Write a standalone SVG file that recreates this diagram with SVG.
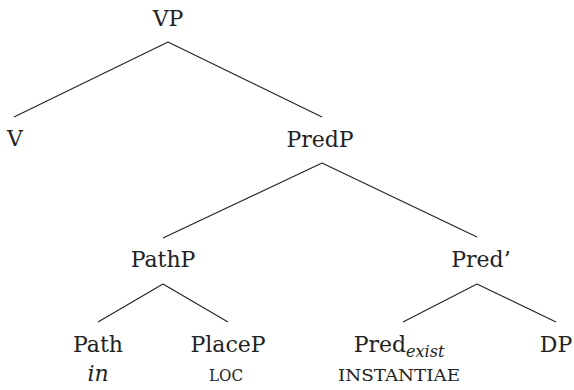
<svg xmlns="http://www.w3.org/2000/svg" width="574" height="390" viewBox="0 0 574 390">
<style>
text{font-family:"DejaVu Serif","Liberation Serif",serif;font-size:22px;fill:#222;text-anchor:middle}
.it{font-style:italic}
.sc{font-size:17.5px}
.edge{stroke:#222;stroke-width:1.1;fill:none}
</style>
<rect width="574" height="390" fill="#fff"/>
<g id="connectors">
<line class="edge" x1="168" y1="42" x2="14" y2="117"/>
<line class="edge" x1="168" y1="42" x2="322" y2="117"/>
<line class="edge" x1="322" y1="163" x2="163" y2="238"/>
<line class="edge" x1="322" y1="163" x2="477" y2="237"/>
<line class="edge" x1="163" y1="284" x2="98" y2="322"/>
<line class="edge" x1="163" y1="284" x2="228" y2="322"/>
<line class="edge" x1="477" y1="284" x2="403" y2="322"/>
<line class="edge" x1="477" y1="284" x2="556" y2="322"/>
</g>
<g id="VP"><text x="168" y="26">VP</text></g>
<g id="V"><text x="15" y="146">V</text></g>
<g id="PredP"><text x="320" y="147">PredP</text></g>
<g id="PathP"><text x="163" y="267">PathP</text></g>
<g id="PredBar"><text x="481" y="267">Pred’</text></g>
<g id="Path"><text x="98" y="352">Path</text><text class="it" x="98" y="381">in</text></g>
<g id="PlaceP"><text x="228" y="352">PlaceP</text><text class="sc" x="226" y="381" textLength="34" lengthAdjust="spacingAndGlyphs">LOC</text></g>
<g id="PredExist"><text x="399" y="352">Pred<tspan class="it" font-size="16" dy="5">exist</tspan></text><text class="sc" x="399" y="381" textLength="122" lengthAdjust="spacingAndGlyphs">INSTANTIAE</text></g>
<g id="DP"><text x="556" y="352">DP</text></g>
</svg>
